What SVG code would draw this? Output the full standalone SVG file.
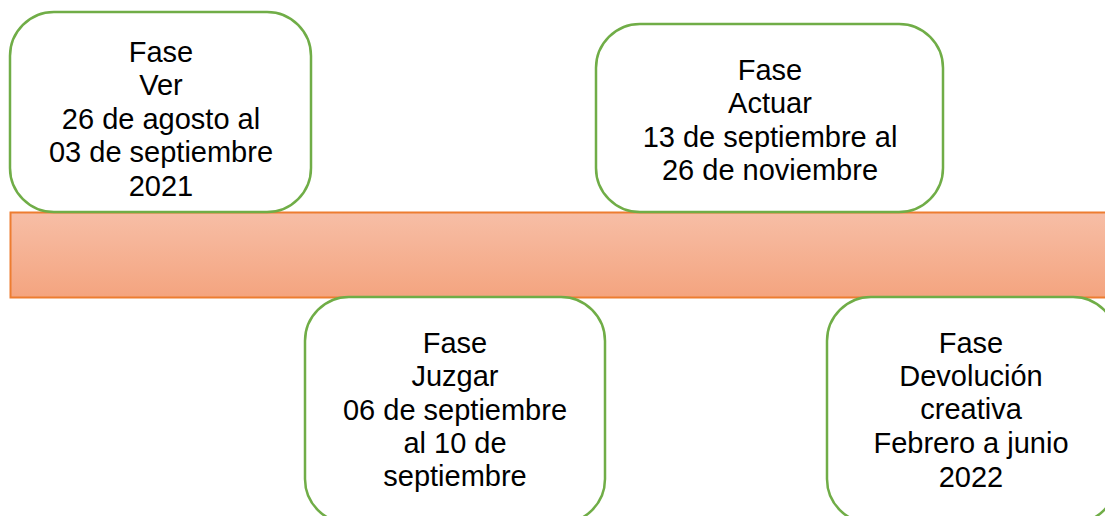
<svg xmlns="http://www.w3.org/2000/svg" width="1105" height="516" viewBox="0 0 1105 516">
<defs>
<linearGradient id="barGrad" x1="0" y1="0" x2="0" y2="1">
<stop offset="0" stop-color="#f7bea6"/>
<stop offset="1" stop-color="#f4a47f"/>
</linearGradient>
<style>
.box{fill:#ffffff;stroke:#70ad47;stroke-width:2.5}
.lbl{font-family:"Liberation Sans",Arial,sans-serif;font-size:29px;fill:#000000;text-anchor:middle}
.bar{fill:url(#barGrad);stroke:#ed7d31;stroke-width:2}
</style>
</defs>
<rect width="1105" height="516" fill="#ffffff"/>
<g id="connectors">
<rect class="bar" x="10.5" y="212.5" width="1100" height="85"/>
</g>
<g id="fase-ver">
<rect class="box" x="10" y="12" width="301" height="200" rx="44" ry="44"/>
<text class="lbl" x="161" y="62">Fase</text>
<text class="lbl" x="161" y="95">Ver</text>
<text class="lbl" x="161" y="129">26 de agosto al</text>
<text class="lbl" x="161" y="162">03 de septiembre</text>
<text class="lbl" x="161" y="196">2021</text>
</g>
<g id="fase-actuar">
<rect class="box" x="596" y="24" width="347" height="188" rx="44" ry="44"/>
<text class="lbl" x="770" y="80">Fase</text>
<text class="lbl" x="770" y="113">Actuar</text>
<text class="lbl" x="770" y="147">13 de septiembre al</text>
<text class="lbl" x="770" y="180">26 de noviembre</text>
</g>
<g id="fase-juzgar">
<rect class="box" x="305" y="297" width="300" height="226" rx="44" ry="44"/>
<text class="lbl" x="455" y="353">Fase</text>
<text class="lbl" x="455" y="386">Juzgar</text>
<text class="lbl" x="455" y="420">06 de septiembre</text>
<text class="lbl" x="455" y="453">al 10 de</text>
<text class="lbl" x="455" y="486">septiembre</text>
</g>
<g id="fase-devolucion">
<rect class="box" x="827" y="297" width="290" height="226" rx="44" ry="44"/>
<text class="lbl" x="971" y="353">Fase</text>
<text class="lbl" x="971" y="386">Devolución</text>
<text class="lbl" x="971" y="419">creativa</text>
<text class="lbl" x="971" y="453">Febrero a junio</text>
<text class="lbl" x="971" y="487">2022</text>
</g>
</svg>
